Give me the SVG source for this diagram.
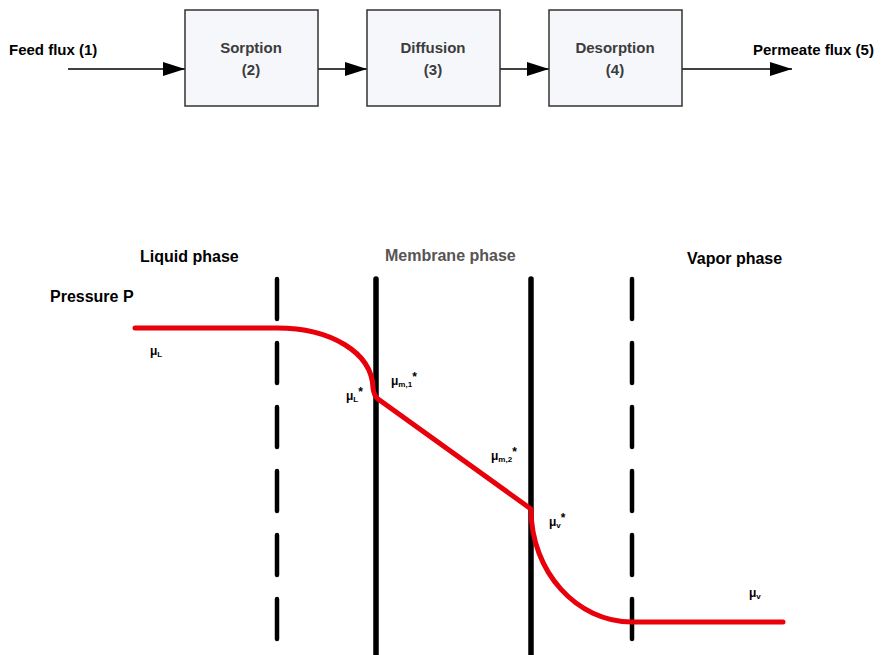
<svg xmlns="http://www.w3.org/2000/svg" width="887" height="655" viewBox="0 0 887 655">
<defs>
<style>
.box{fill:#f5f7fb;stroke:#333;stroke-width:1.5}
.bt{font-family:"Liberation Sans",Arial,sans-serif;font-weight:bold;font-size:15px;fill:#3c3c3c;text-anchor:middle}
.lb{font-family:"Liberation Sans",Arial,sans-serif;font-weight:bold;font-size:15px;fill:#000}
.ph{font-family:"Liberation Sans",Arial,sans-serif;font-weight:bold;font-size:16px;fill:#000}
.mu{font-family:"Liberation Sans",Arial,sans-serif;font-weight:bold;font-size:12px;fill:#000}
.sub{font-size:8px}
.conn{stroke:#000;stroke-width:1.5;fill:none}
.dash{stroke:#000;stroke-width:4.5;stroke-linecap:round;stroke-dasharray:40 24;fill:none}
.solid{stroke:#000;stroke-width:5.5;stroke-linecap:round;fill:none}
.curve{stroke:#e8000b;stroke-width:5;stroke-linecap:round;stroke-linejoin:round;fill:none}
</style>
<marker id="arr" markerWidth="22" markerHeight="14" refX="22" refY="7" orient="auto" markerUnits="userSpaceOnUse">
<path d="M0,0 L22,7 L0,14 Z" fill="#000"/>
</marker>
</defs>

<g id="connectors">
<line class="conn" x1="68" y1="69" x2="185" y2="69" marker-end="url(#arr)"/>
<line class="conn" x1="318" y1="69" x2="367" y2="69" marker-end="url(#arr)"/>
<line class="conn" x1="500" y1="69" x2="549" y2="69" marker-end="url(#arr)"/>
<line class="conn" x1="682" y1="69" x2="792" y2="69" marker-end="url(#arr)"/>
</g>

<g id="feed"><text class="lb" x="9" y="55">Feed flux (1)</text></g>
<g id="sorption">
<rect class="box" x="185" y="10" width="133" height="96"/>
<text class="bt" x="251" y="53">Sorption</text>
<text class="bt" x="251" y="75">(2)</text>
</g>
<g id="diffusion">
<rect class="box" x="367" y="10" width="133" height="96"/>
<text class="bt" x="433" y="53">Diffusion</text>
<text class="bt" x="433" y="75">(3)</text>
</g>
<g id="desorption">
<rect class="box" x="549" y="10" width="133" height="96"/>
<text class="bt" x="615" y="53">Desorption</text>
<text class="bt" x="615" y="75">(4)</text>
</g>
<g id="permeate"><text class="lb" x="753" y="55">Permeate flux (5)</text></g>

<g id="profile">
<text class="ph" x="140" y="262">Liquid phase</text>
<text class="ph" x="385" y="261" style="fill:#555">Membrane phase</text>
<text class="ph" x="687" y="264">Vapor phase</text>
<text class="ph" x="50" y="302">Pressure P</text>

<line class="dash" x1="277" y1="279" x2="277" y2="640"/>
<line class="dash" x1="632" y1="279" x2="632" y2="640"/>
<line class="solid" x1="376" y1="279" x2="376" y2="655"/>
<line class="solid" x1="531" y1="279" x2="531" y2="655"/>

<path class="curve" d="M135,328 L277,328 C330,328 372,352 373,388 Q374,396 378,399 L531,509 C531,572 577,622 632,622 L783,622"/>

<text class="mu" x="150" y="355">μ<tspan class="sub" dy="2">L</tspan></text>
<text class="mu" x="346" y="400">μ<tspan class="sub" dy="2">L</tspan><tspan dy="-6">*</tspan></text>
<text class="mu" x="391" y="385">μ<tspan class="sub" dy="2">m,1</tspan><tspan dy="-6">*</tspan></text>
<text class="mu" x="491" y="460">μ<tspan class="sub" dy="2">m,2</tspan><tspan dy="-6">*</tspan></text>
<text class="mu" x="549" y="526">μ<tspan class="sub" dy="2">v</tspan><tspan dy="-6">*</tspan></text>
<text class="mu" x="749" y="597">μ<tspan class="sub" dy="2">v</tspan></text>
</g>
</svg>
